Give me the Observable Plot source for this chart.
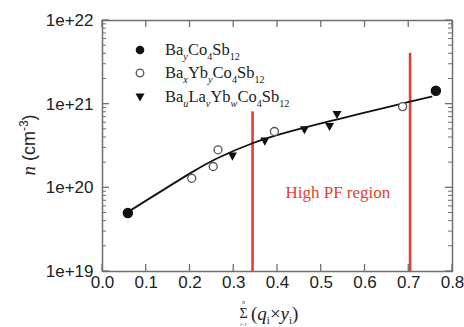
<!DOCTYPE html>
<html><head><meta charset="utf-8">
<script src="https://cdn.jsdelivr.net/npm/d3@7"></script>
<script src="https://cdn.jsdelivr.net/npm/@observablehq/plot@0.6"></script>
<style>body{margin:0;background:#fff}</style>
</head><body><div id="chart"></div>
<script>
// ---- data ----
const baX = [0.058, 0.762];
const baN = [5.0e19, 1.45e21];
const baybX = [0.204, 0.253, 0.264, 0.393, 0.686];
const baybN = [1.30e20, 1.80e20, 2.85e20, 4.71e20, 9.35e20];
const balaybX = [0.297, 0.371, 0.4615, 0.519, 0.536];
const balaybN = [2.39e20, 3.61e20, 4.94e20, 5.41e20, 7.52e20];
const fitX = [0.057, 0.202, 0.271, 0.343, 0.423, 0.515, 0.592, 0.703, 0.752];
const fitN = [5.1e19, 1.51e20, 2.37e20, 3.41e20, 4.62e20, 6.17e20, 7.76e20, 1.07e21, 1.23e21];
const regionX = [0.343, 0.703];
const regionTop = [8.1e20, 4.06e21];
const regionLabel = "High PF region";
const regionLabelX = 0.538;
const regionLabelN = 8.8e19;
const xTicks = [0, 0.1, 0.2, 0.3, 0.4, 0.5, 0.6, 0.7, 0.8];
const yTicks = [1e19, 1e20, 1e21, 1e22];
const yMinorMult = [2, 3, 4, 5, 6, 7, 8, 9];
const legendLabels = [
  [["Ba"], ["y", "si"], ["Co"], ["4", "s"], ["Sb"], ["12", "s"]],
  [["Ba"], ["x", "si"], ["Yb"], ["y", "si"], ["Co"], ["4", "s"], ["Sb"], ["12", "s"]],
  [["Ba"], ["u", "si"], ["La"], ["v", "si"], ["Yb"], ["w", "si"], ["Co"], ["4", "s"], ["Sb"], ["12", "s"]]
];

const ba = baX.map((x, i) => ({x, n: baN[i]}));
const bayb = baybX.map((x, i) => ({x, n: baybN[i]}));
const balayb = balaybX.map((x, i) => ({x, n: balaybN[i]}));
const fit = fitX.map((x, i) => ({x, n: fitN[i]}));
const region = regionX.map((x, i) => ({x, top: regionTop[i]}));
const yMinor = yTicks.slice(0, -1).flatMap(d => yMinorMult.map(m => m * d));

const W = 464, H = 327, mL = 102, mR = 12, mT = 20, mB = 56;
const frameC = "#707070", red = "#e43e2f";

const triDown = {
  draw(ctx, size) {
    const a = Math.sqrt(size / Math.PI);
    ctx.moveTo(-a, -a * 0.8);
    ctx.lineTo(a, -a * 0.8);
    ctx.lineTo(0, a * 1.0);
    ctx.closePath();
  }
};

const chart = Plot.plot({
  width: W, height: H,
  marginLeft: mL, marginRight: mR, marginTop: mT, marginBottom: mB,
  style: {fontFamily: "Liberation Sans, Arial, sans-serif", fontSize: "17px", color: "#222", background: "#fff"},
  x: {domain: [0, 0.8]},
  y: {type: "log", domain: [1e19, 1e22]},
  marks: [
    Plot.ruleX(region, {x: "x", y1: 1e19, y2: "top", stroke: red, strokeWidth: 2.6}),
    Plot.line(fit, {x: "x", y: "n", curve: "natural", stroke: "#111", strokeWidth: 1.8}),
    Plot.dot(ba, {x: "x", y: "n", r: 4.5, fill: "#111", stroke: "#111"}),
    Plot.dot(bayb, {x: "x", y: "n", r: 4, fill: "#fff", stroke: "#555", strokeWidth: 1.3}),
    Plot.dot(balayb, {x: "x", y: "n", r: 4.5, symbol: triDown, fill: "#111", stroke: "none"}),
    Plot.text([regionLabel], {x: () => regionLabelX, y: () => regionLabelN, text: d => d, fill: red, fontFamily: "Liberation Serif, Times New Roman, serif", fontSize: 17}),
    Plot.frame({stroke: frameC, strokeWidth: 1.5}),
    Plot.axisX({ticks: xTicks, tickSize: 0, tickPadding: 4, tickFormat: d => d.toFixed(1), label: null, fontSize: 17, fill: "#222"}),
    Plot.axisY({ticks: yTicks, tickSize: 0, tickPadding: 9, tickFormat: d => "1e+" + Math.round(Math.log10(d)), label: null, fontSize: 17, fill: "#222"})
  ]
});
document.getElementById("chart").appendChild(chart);

const svg = d3.select(chart);
const sx = chart.scale("x"), sy = chart.scale("y");
const X = v => sx.apply(v), Y = v => sy.apply(v);
const pxLeft = X(0), pxRight = X(0.8), pxTop = Y(1e22), pxBottom = Y(1e19);

// inward ticks drawn through Plot's scales
const tg = svg.append("g").attr("stroke", frameC);
xTicks.forEach(t => {
  tg.append("line").attr("x1", X(t)).attr("x2", X(t)).attr("y1", pxBottom).attr("y2", pxBottom - 7).attr("stroke-width", 1.3);
  tg.append("line").attr("x1", X(t)).attr("x2", X(t)).attr("y1", pxTop).attr("y2", pxTop + 7).attr("stroke-width", 1.3);
});
yTicks.forEach(t => {
  tg.append("line").attr("y1", Y(t)).attr("y2", Y(t)).attr("x1", pxLeft).attr("x2", pxLeft + 7).attr("stroke-width", 1.3);
  tg.append("line").attr("y1", Y(t)).attr("y2", Y(t)).attr("x1", pxRight).attr("x2", pxRight - 7).attr("stroke-width", 1.3);
});
yMinor.forEach(t => {
  tg.append("line").attr("y1", Y(t)).attr("y2", Y(t)).attr("x1", pxLeft).attr("x2", pxLeft + 4).attr("stroke-width", 1);
  tg.append("line").attr("y1", Y(t)).attr("y2", Y(t)).attr("x1", pxRight).attr("x2", pxRight - 4).attr("stroke-width", 1);
});

// ---- annotations with sub/superscripts ----
const serif = "Liberation Serif, Times New Roman, serif";
const sans = "Liberation Sans, Arial, sans-serif";

function rich(g, parts, x, y, size, family) {
  const t = g.append("text").attr("x", x).attr("y", y).attr("font-family", family)
    .attr("text-anchor", "start").attr("font-size", size).attr("fill", "#222");
  let shifted = 0;
  for (const [s, kind] of parts) {
    const tsp = t.append("tspan").text(s);
    const isSub = kind === "s" || kind === "si";
    const target = isSub ? Math.round(size * 0.28) : 0;
    if (target !== shifted) { tsp.attr("dy", target - shifted); shifted = target; }
    if (isSub) tsp.attr("font-size", size * 0.62);
    if (kind === "si") tsp.attr("font-style", "italic");
  }
  return t;
}

// legend
const lg = svg.append("g");
const legendY = [50, 73, 97];
lg.append("circle").attr("cx", 140).attr("cy", legendY[0]).attr("r", 4.3).attr("fill", "#111");
lg.append("circle").attr("cx", 140).attr("cy", legendY[1]).attr("r", 3.8).attr("fill", "#fff").attr("stroke", "#555").attr("stroke-width", 1.3);
lg.append("path").attr("transform", `translate(140,${legendY[2]})`).attr("d", "M-4.5,-3.6L4.5,-3.6L0,4.5Z").attr("fill", "#111");
legendLabels.forEach((parts, i) => rich(lg, parts, 165, legendY[i] + 5, 16.5, serif));

// x-axis title: Σ(q_i × y_i)
const xt = svg.append("g");
xt.append("text").attr("x", 243.5).attr("y", 318).attr("text-anchor", "middle")
  .attr("font-family", serif).attr("font-size", 14).attr("fill", "#222").text("Σ");
xt.append("text").attr("x", 243.5).attr("y", 304).attr("text-anchor", "middle")
  .attr("font-family", serif).attr("font-style", "italic").attr("font-size", 5.5).attr("fill", "#222").text("n");
xt.append("text").attr("x", 243.5).attr("y", 325.5).attr("text-anchor", "middle")
  .attr("font-family", serif).attr("font-size", 5).attr("fill", "#222").text("i=1");
const xt2 = xt.append("text").attr("x", 251).attr("y", 320).attr("text-anchor", "start")
  .attr("font-family", serif).attr("font-size", 19).attr("fill", "#222");
xt2.append("tspan").text("(");
xt2.append("tspan").attr("font-style", "italic").text("q");
xt2.append("tspan").attr("font-size", 11).attr("dy", 4).text("i");
xt2.append("tspan").attr("dy", -4).text("×");
xt2.append("tspan").attr("font-style", "italic").text("y");
xt2.append("tspan").attr("font-size", 11).attr("dy", 4).text("i");
xt2.append("tspan").attr("dy", -4).text(")");

// y-axis title: n (cm^-3)
const yt = svg.append("text").attr("transform", "translate(35,145) rotate(-90)")
  .attr("text-anchor", "middle").attr("font-family", sans).attr("font-size", 18).attr("fill", "#222");
yt.append("tspan").attr("font-family", serif).attr("font-style", "italic").attr("font-size", 19).text("n");
yt.append("tspan").text(" (cm");
yt.append("tspan").attr("font-size", 12).attr("dy", -7).text("-3");
yt.append("tspan").attr("dy", 7).text(")");
</script>
</body></html>
